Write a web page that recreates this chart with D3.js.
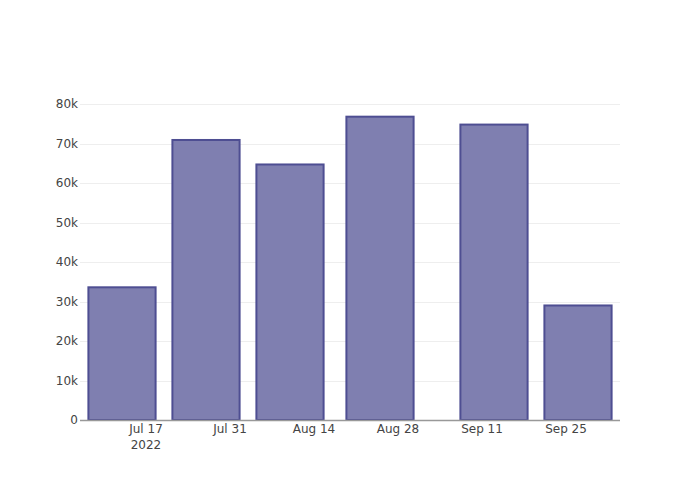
<!DOCTYPE html>
<html><head><meta charset="utf-8">
<script src="https://cdn.jsdelivr.net/npm/d3@7"></script>
<style>body{margin:0;background:#fff}svg{font-family:"DejaVu Sans",verdana,arial,sans-serif}</style>
</head><body><svg id="c" width="700" height="500"></svg>
<script>
const dates = ["2022-07-13","2022-07-27","2022-08-10","2022-08-25","2022-09-13","2022-09-27"];
const values = [33600, 70900, 64700, 76800, 74800, 29000];
const yTicks = [0,10000,20000,30000,40000,50000,60000,70000,80000];
const yTickLabels = ["0","10k","20k","30k","40k","50k","60k","70k","80k"];
const xTicks = ["2022-07-17","2022-07-31","2022-08-14","2022-08-28","2022-09-11","2022-09-25"];
const xTickLabels = ["Jul 17","Jul 31","Aug 14","Aug 28","Sep 11","Sep 25"];

const parse = d3.utcParse("%Y-%m-%d");
const dd = dates.map(parse);
const L=80,R=620,T=100,B=420;
let minGap = Infinity;
for(let i=1;i<dd.length;i++) minGap=Math.min(minGap, dd[i]-dd[i-1]);
const x = d3.scaleUtc().domain([new Date(+dd[0]-minGap/2), new Date(+dd[dd.length-1]+minGap/2)]).range([L,R]);
const y = d3.scaleLinear().domain([0, d3.max(values)*1.055]).range([B,T]);
const svg = d3.select("#c");

svg.append("g").selectAll("line").data(yTicks.slice(1)).join("line")
  .attr("x1",L).attr("x2",R).attr("y1",d=>Math.round(y(d))+0.5).attr("y2",d=>Math.round(y(d))+0.5)
  .attr("stroke","#eee").attr("stroke-width",1);

const bw = x(new Date(+dd[0]+minGap*0.4)) - x(dd[0]);
svg.append("g").selectAll("rect").data(values).join("rect")
  .attr("x",(d,i)=>x(dd[i])-bw).attr("width",bw*2)
  .attr("y",d=>y(d)).attr("height",d=>B-y(d))
  .attr("fill","rgb(127,127,176)").attr("stroke","rgb(78,78,146)").attr("stroke-width",2);

svg.append("line").attr("x1",L).attr("x2",R).attr("y1",B+0.5).attr("y2",B+0.5)
  .attr("stroke","#999").attr("stroke-width",1.5);

svg.append("g").selectAll("text").data(yTicks).join("text")
  .attr("x",L-2).attr("y",d=>y(d)).attr("dy","0.35em").attr("text-anchor","end")
  .attr("font-size",12).attr("fill","#444").text((d,i)=>yTickLabels[i]);

const xt = svg.append("g").selectAll("text").data(xTicks).join("text")
  .attr("x",d=>x(parse(d))).attr("y",433).attr("text-anchor","middle")
  .attr("font-size",12).attr("fill","#444");
xt.append("tspan").attr("x",d=>x(parse(d))).text((d,i)=>xTickLabels[i]);
xt.filter((d,i)=>i===0).append("tspan").attr("x",d=>x(parse(d))).attr("dy",15.5).text("2022");
</script></body></html>
